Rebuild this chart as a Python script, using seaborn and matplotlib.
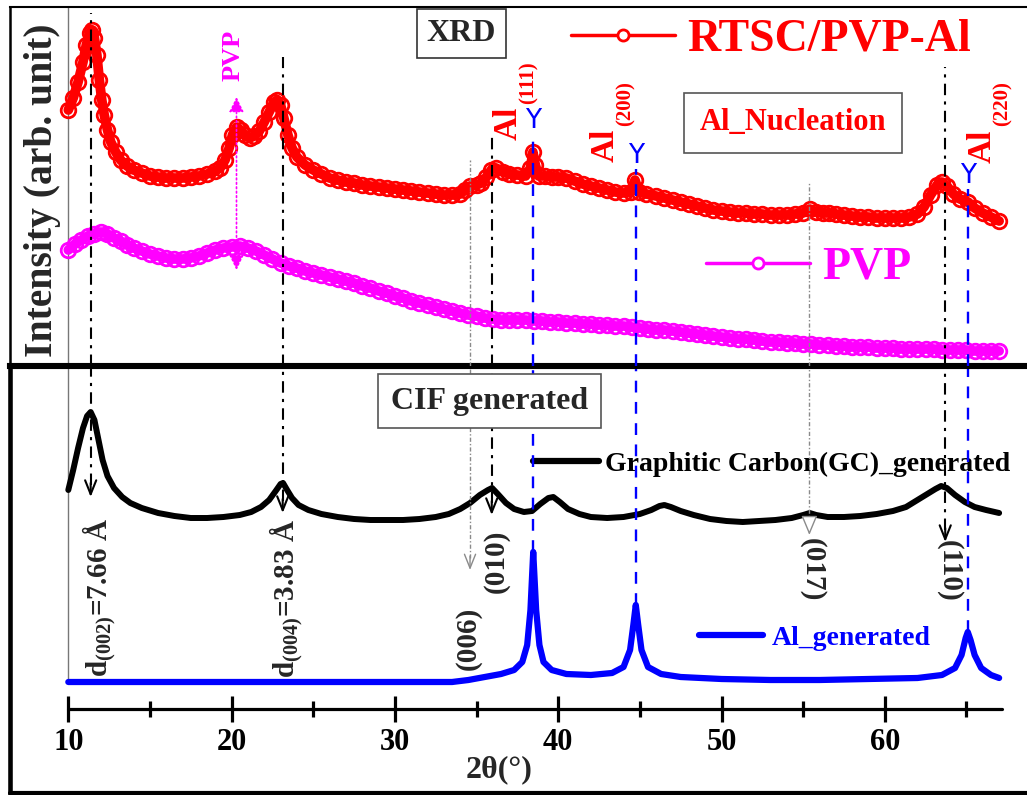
import matplotlib
matplotlib.use("Agg")
import matplotlib.pyplot as plt
import pandas as pd
import seaborn as sns
from matplotlib.lines import Line2D

# ---------------- data (2theta in degrees, intensity in arbitrary units) ----------------
rtsc_2theta = [10.0, 10.3, 10.6, 10.9, 11.1, 11.3, 11.45, 11.6, 11.75, 11.9, 12.05, 12.2, 12.4, 12.6,
               12.9, 13.2, 13.6, 14.0, 14.5, 15.0, 15.5, 16.0, 16.5, 17.0, 17.5, 18.0, 18.5, 19.0,
               19.3, 19.6, 19.85, 20.05, 20.3, 20.55, 20.8, 21.1, 21.4, 21.7, 22.0, 22.3, 22.6, 22.8,
               23.0, 23.2, 23.45, 23.7, 24.0, 24.5, 25.0, 25.5, 26.0, 26.5, 27.0, 27.5, 28.0, 28.5,
               29.0, 29.5, 30.0, 30.5, 31.0, 31.5, 32.0, 32.5, 33.0, 33.5, 34.0, 34.3, 34.6, 35.0,
               35.3, 35.6, 35.9, 36.2, 36.6, 37.0, 37.5, 38.0, 38.3, 38.45, 38.6, 38.8, 39.2, 39.6,
               40.0, 40.5, 41.0, 41.5, 42.0, 42.5, 43.0, 43.5, 44.0, 44.45, 44.7, 44.95, 45.4, 46.0,
               46.5, 47.0, 47.5, 48.0, 48.5, 49.0, 49.5, 50.0, 50.5, 51.0, 51.5, 52.0, 52.5, 53.0,
               53.5, 54.0, 54.5, 55.0, 55.4, 55.8, 56.2, 56.6, 57.0, 57.5, 58.0, 58.5, 59.0, 59.5,
               60.0, 60.5, 61.0, 61.5, 62.0, 62.4, 62.8, 63.2, 63.5, 63.8, 64.2, 64.6, 65.1, 65.5,
               66.0, 66.5, 67.0]
rtsc_int = [256, 268, 284, 304, 321, 333, 336, 328, 311, 286, 266, 251, 236, 224,
            214, 206, 200, 196, 193, 190, 189, 188, 188, 188, 189, 190, 192, 195,
            198, 206, 218, 231, 239, 236, 231, 228, 230, 235, 244, 254, 264, 266,
            261, 248, 231, 218, 209, 201, 196, 192, 188, 186, 184, 183, 181, 180,
            179, 178, 177, 176, 175, 174, 173, 172, 171, 171, 172, 176, 180, 181,
            183, 189, 196, 198, 194, 192, 191, 190, 198, 214, 201, 190, 190, 189,
            189, 188, 185, 182, 180, 178, 176, 174, 173, 174, 186, 174, 172, 170,
            168, 166, 164, 162, 160, 158, 156, 155, 154, 153, 153, 152, 152, 151,
            151, 151, 152, 153, 157, 154, 153, 153, 152, 151, 150, 149, 149, 148,
            148, 148, 148, 149, 152, 159, 171, 181, 184, 180, 172, 167, 164, 158,
            153, 149, 145]

pvp_2theta = [10.0, 10.4, 10.8, 11.2, 11.6, 12.0, 12.4, 12.8, 13.2, 13.6, 14.0, 14.5, 15.0, 15.5,
              16.0, 16.5, 17.0, 17.5, 18.0, 18.5, 19.0, 19.5, 20.0, 20.5, 21.0, 21.5, 22.0, 22.5,
              23.0, 23.5, 24.0, 24.5, 25.0, 25.5, 26.0, 26.5, 27.0, 27.5, 28.0, 28.5, 29.0, 29.5,
              30.0, 30.5, 31.0, 31.5, 32.0, 32.5, 33.0, 33.5, 34.0, 34.5, 35.0, 35.5, 36.0, 36.5,
              37.0, 37.5, 38.0, 38.5, 39.0, 39.5, 40.0, 40.5, 41.0, 41.5, 42.0, 42.5, 43.0, 43.5,
              44.0, 44.5, 45.0, 45.5, 46.0, 46.5, 47.0, 47.5, 48.0, 48.5, 49.0, 49.5, 50.0, 50.5,
              51.0, 51.5, 52.0, 52.5, 53.0, 53.5, 54.0, 54.5, 55.0, 55.5, 56.0, 56.5, 57.0, 57.5,
              58.0, 58.5, 59.0, 59.5, 60.0, 60.5, 61.0, 61.5, 62.0, 62.5, 63.0, 63.5, 64.0, 64.5,
              65.0, 65.5, 66.0, 66.5, 67.0]
pvp_int = [116, 122, 126, 130, 132, 134, 132, 128, 125, 121, 118, 115, 112, 110,
           108, 107, 107, 108, 110, 113, 116, 118, 119, 120, 118, 115, 111, 107,
           103, 100, 98, 95, 93, 91, 89, 87, 85, 83, 80, 78, 75, 73,
           70, 68, 65, 63, 61, 59, 57, 55, 53, 51, 50, 48, 47, 46,
           46, 46, 46, 45, 45, 44, 44, 43, 43, 42, 42, 41, 41, 40,
           40, 39, 38, 37, 36, 36, 35, 34, 33, 32, 31, 30, 29, 28,
           27, 27, 26, 25, 24, 24, 23, 23, 22, 22, 21, 21, 20, 20,
           19, 19, 19, 18, 18, 18, 17, 17, 17, 17, 17, 16, 16, 16,
           16, 15, 15, 15, 15]

gc_2theta = [10.0, 10.3, 10.6, 10.9, 11.15, 11.37, 11.6, 11.85, 12.1, 12.4, 12.8, 13.3, 13.8, 14.5,
             15.5, 16.5, 17.5, 18.5, 19.5, 20.5, 21.2, 21.8, 22.3, 22.7, 23.0, 23.15, 23.4, 23.7,
             24.1, 24.7, 25.5, 26.5, 27.5, 28.5, 29.5, 30.5, 31.5, 32.5, 33.3, 34.0, 34.6, 35.2,
             35.7, 35.95, 36.3, 36.8, 37.3, 37.9, 38.4, 38.9, 39.4, 39.7, 40.1, 40.6, 41.3, 42.0,
             43.0, 44.0, 45.0, 45.7, 46.2, 46.5, 46.9, 47.5, 48.3, 49.3, 50.3, 51.3, 52.3, 53.3,
             54.3, 55.0, 55.4, 55.8, 56.5, 57.5, 58.5, 59.5, 60.5, 61.3, 62.0, 62.6, 63.1, 63.45,
             63.8, 64.3, 64.9, 65.5, 66.2, 67.0]
gc_int = [303, 323, 345, 365, 377, 381, 373, 353, 333, 317, 305, 296, 290, 285,
          280, 277, 275, 275, 276, 278, 281, 286, 293, 302, 309, 310, 303, 295,
          288, 283, 279, 276, 274, 273, 273, 273, 274, 276, 279, 284, 290, 298,
          303, 305, 299, 290, 284, 281, 282, 289, 295, 296, 291, 284, 279, 276,
          275, 276, 279, 283, 287, 288, 286, 282, 278, 274, 272, 271, 272, 273,
          275, 278, 280, 278, 276, 276, 277, 279, 282, 286, 293, 299, 304, 307,
          305, 298, 291, 286, 283, 280]

al_2theta = [10.0, 20.0, 30.0, 33.5, 34.5, 35.5, 36.5, 37.3, 37.8, 38.1, 38.3, 38.47, 38.65, 38.85,
             39.1, 39.6, 40.5, 42.0, 43.3, 44.0, 44.4, 44.6, 44.75, 44.9, 45.1, 45.5, 46.3, 47.5,
             50.0, 53.0, 56.0, 59.0, 62.0, 63.5, 64.3, 64.7, 64.95, 65.08, 65.25, 65.5, 65.9, 66.5,
             67.0]
al_int = [111, 111, 111, 111, 113, 116, 119, 123, 131, 148, 183, 241, 183, 148,
          131, 123, 119, 118, 120, 126, 143, 168, 188, 168, 143, 126, 119, 116,
          114, 113, 113, 114, 115, 118, 125, 138, 155, 161, 153, 138, 125, 118,
          115]

x_ticks = [10, 20, 30, 40, 50, 60]
x_minor_ticks = [15, 25, 35, 45, 55, 65]

# reflection positions (2theta)
al_hkl = ["(111)", "(200)", "(220)"]
al_pos = [38.47, 44.75, 65.08]
gc_pos = [11.37, 23.13, 34.6, 35.93, 55.38, 63.7]
pvp_peak = 20.3

# ---------------- style ----------------
sns.set_style("white")
plt.rcParams["font.family"] = ["Liberation Serif", "DejaVu Serif"]
plt.rcParams["font.weight"] = "bold"
plt.rcParams["mathtext.fontset"] = "custom"
plt.rcParams["mathtext.rm"] = "Liberation Serif:bold"
plt.rcParams["mathtext.bf"] = "Liberation Serif:bold"
plt.rcParams["mathtext.it"] = "Liberation Serif:italic:bold"

RED, MAG, BLUE = "#FF0000", "#FF00FF", "#0000FF"
DASHDOT = (0, (5.5, 3, 1.5, 3))
GRAYDOT = (0, (3, 1.5, 1, 1.5))
BLUEDASH = (0, (5, 4))

W, H = 1027, 795
fig = plt.figure(figsize=(W / 100, H / 100), dpi=100)
fig.patch.set_facecolor("white")

XL = (6.43, 68.707)
TOP_H = 359.5
BOT_H = 427.0
ax_bot = fig.add_axes([10 / W, 2 / H, 1017 / W, BOT_H / H])
ax_top = fig.add_axes([10 / W, 429 / H, 1017 / W, TOP_H / H])
for a in (ax_top, ax_bot):
    a.set_xlim(*XL)
    a.patch.set_visible(False)
ax_top.set_ylim(0, TOP_H)
ax_bot.set_ylim(0, BOT_H)

# ---------------- curves ----------------
df_rtsc = pd.DataFrame({"two_theta": rtsc_2theta, "intensity": rtsc_int})
df_pvp = pd.DataFrame({"two_theta": pvp_2theta, "intensity": pvp_int})
df_gc = pd.DataFrame({"two_theta": gc_2theta, "intensity": gc_int})
df_al = pd.DataFrame({"two_theta": al_2theta, "intensity": al_int})

sns.lineplot(data=df_rtsc, x="two_theta", y="intensity", ax=ax_top, sort=False, estimator=None,
             color=RED, lw=7, marker="o", markersize=10.5, markerfacecolor="none",
             markeredgecolor=RED, markeredgewidth=2.0, legend=False, zorder=3)
sns.lineplot(data=df_pvp, x="two_theta", y="intensity", ax=ax_top, sort=False, estimator=None,
             color=MAG, lw=7, marker="o", markersize=10.5, markerfacecolor="none",
             markeredgecolor=MAG, markeredgewidth=2.0, legend=False, zorder=3)
for l in ax_top.get_lines():
    l.set_solid_capstyle("round")
    l.set_solid_joinstyle("round")
sns.lineplot(data=df_gc, x="two_theta", y="intensity", ax=ax_bot, sort=False, estimator=None,
             color="black", lw=4.3, legend=False, zorder=3)
sns.lineplot(data=df_al, x="two_theta", y="intensity", ax=ax_bot, sort=False, estimator=None,
             color=BLUE, lw=4.5, legend=False, zorder=3)
for l in ax_bot.get_lines():
    l.set_solid_capstyle("round")
    l.set_solid_joinstyle("round")

# ---------------- axes decoration ----------------
for a in (ax_top, ax_bot):
    a.set_xlabel("")
    a.set_ylabel("")
    a.set_yticks([])

ax_top.spines["right"].set_visible(False)
ax_top.spines["top"].set_linewidth(1.5)
ax_top.spines["left"].set_linewidth(1.8)
ax_top.spines["bottom"].set_linewidth(4.4)
ax_top.tick_params(axis="x", which="both", bottom=False, labelbottom=False)
for s in ax_top.spines.values():
    s.set_color("black")

ax_bot.spines["right"].set_visible(False)
ax_bot.spines["top"].set_visible(False)
ax_bot.spines["left"].set_linewidth(3.3)
ax_bot.spines["left"].set_color("black")
ax_bot.spines["bottom"].set_position(("data", 84))
ax_bot.spines["bottom"].set_bounds(10, 67.16)
ax_bot.spines["bottom"].set_linewidth(2.3)
ax_bot.spines["bottom"].set_color("black")
ax_bot.spines["bottom"].set_capstyle("round")
ax_bot.axhline(0, color="black", lw=3, clip_on=False)
ax_bot.set_xticks(x_ticks)
ax_bot.set_xticks(x_minor_ticks, minor=True)
ax_bot.set_xticklabels([str(t) for t in x_ticks])
ax_bot.tick_params(axis="x", which="major", bottom=True, direction="inout", length=19, width=2.3,
                   pad=4, labelsize=22, colors="black")
ax_bot.tick_params(axis="x", which="minor", bottom=True, direction="inout", length=11, width=2.3,
                   colors="black")
for lab in ax_bot.get_xticklabels():
    lab.set_fontweight("bold")
ax_bot.set_xlabel("2θ(°)", fontsize=23, fontweight="bold")
ax_bot.xaxis.set_label_coords(0.4808, 0.088)

ax_top.set_ylabel("Intensity (arb. unit)", fontsize=28.5, fontweight="bold")
ax_top.yaxis.label.set_va("center")
ax_top.yaxis.label.set_ha("center")
ax_top.yaxis.set_label_coords(0.0315, 0.4896)

# thin grey left boundary of the scan range
ax_top.vlines(10, 0, TOP_H, color="#777777", lw=1)
ax_bot.vlines(10, al_int[0], BOT_H, color="#777777", lw=1)

# ---------------- guide lines ----------------
def guide(x, v_top, v_tip, ls, color, lw, head, fc=None):
    ax_top.vlines(x, 0, v_top, linestyles=[ls], colors=color, lw=lw, zorder=6)
    ax_bot.vlines(x, v_tip + 12, BOT_H, linestyles=[ls], colors=color, lw=lw, zorder=6)
    props = dict(arrowstyle=head, lw=lw, mutation_scale=20, shrinkA=0, shrinkB=0,
                 edgecolor=color, facecolor=fc if fc is not None else color)
    ax_bot.annotate("", xy=(x, v_tip), xytext=(x, v_tip + 14), arrowprops=props, zorder=6)

guide(gc_pos[0], 353, 296, DASHDOT, "black", 1.5, "->,head_length=0.5,head_width=0.2")
guide(gc_pos[1], 309, 280, DASHDOT, "black", 1.5, "->,head_length=0.5,head_width=0.2")
guide(gc_pos[2], 206, 223, GRAYDOT, "#8a8a8a", 1.0, "->,head_length=0.5,head_width=0.2")
guide(gc_pos[3], 233, 278, DASHDOT, "black", 1.5, "->,head_length=0.5,head_width=0.2")
guide(gc_pos[4], 183, 258, GRAYDOT, "#8a8a8a", 1.0, "-|>,head_length=0.6,head_width=0.25", fc="white")
guide(gc_pos[5], 299, 251, DASHDOT, "black", 1.5, "->,head_length=0.5,head_width=0.2")

# Al reflections: blue dashed lines from marker to generated Al peaks
y_marker = [245, 210, 190]
for x, ym in zip(al_pos, y_marker):
    peak = max(v for t, v in zip(al_2theta, al_int) if abs(t - x) < 0.3)
    ax_top.vlines(x, 0, ym - 13, linestyles=[BLUEDASH], colors=BLUE, lw=1.7, zorder=6)
    ax_bot.vlines(x, peak, BOT_H, linestyles=[BLUEDASH], colors=BLUE, lw=1.7, zorder=6)
    ax_top.text(x, ym, "Y", color=BLUE, fontsize=19, fontweight="normal",
                family="DejaVu Sans", ha="center", va="center", zorder=7)

# Al labels: "Al" with a lowered (to the right, since rotated) Miller-index subscript
al_label_x = [36.95, 42.87, 65.93]
al_label_v = [226, 204, 203]
al_sub_x = [38.2, 44.1, 67.2]
al_sub_v = [262, 240, 240]
for hkl, x, v, xs, vs in zip(al_hkl, al_label_x, al_label_v, al_sub_x, al_sub_v):
    ax_top.text(x, v, "Al", color=RED, fontsize=24, fontweight="bold",
                rotation=90, ha="center", va="bottom", zorder=7)
    ax_top.text(xs, vs, hkl, color=RED, fontsize=15, fontweight="bold",
                rotation=90, ha="center", va="bottom", zorder=7)

# PVP marker in sample pattern
ax_top.annotate("", xy=(pvp_peak, 269), xytext=(pvp_peak, 96),
                arrowprops=dict(arrowstyle="<|-|>,head_length=0.45,head_width=0.22", color=MAG,
                                lw=1.2, ls=":", mutation_scale=20, shrinkA=0, shrinkB=0), zorder=6)
ax_top.text(20.07, 311, "PVP", color=MAG, fontsize=19, fontweight="bold", rotation=90,
            ha="center", va="center")

# boxes
ax_top.text(34.08, 332.5, "XRD", fontsize=23, fontweight="bold", ha="center", va="center",
            bbox=dict(boxstyle="square,pad=0.3", fc="white", ec="#333333", lw=1.2))
ax_top.text(54.38, 243, "Al_Nucleation", fontsize=22, fontweight="bold", color=RED,
            ha="center", va="center",
            bbox=dict(boxstyle="square,pad=0.5", fc="white", ec="#555555", lw=1.2))
ax_bot.text(35.79, 392, "CIF generated", fontsize=23, fontweight="bold", ha="center", va="center",
            bbox=dict(boxstyle="square,pad=0.4", fc="white", ec="#555555", lw=1.2), zorder=8)

# legends
h_rtsc = Line2D([], [], color=RED, lw=2.5, marker="o", ms=8, mfc="white", mec=RED, mew=2)
h_pvp = Line2D([], [], color=MAG, lw=2.5, marker="o", ms=8, mfc="white", mec=MAG, mew=2)
leg1 = ax_top.legend([h_rtsc], ["RTSC/PVP-Al"], loc="center left", bbox_to_anchor=(0.552, 0.907),
                     frameon=False, borderpad=0, borderaxespad=0, handlelength=2.27,
                     handletextpad=0.26, numpoints=1, labelcolor=RED,
                     prop=dict(family="Liberation Serif", weight="bold", size=33))
ax_top.add_artist(leg1)
ax_top.legend([h_pvp], ["PVP"], loc="center left", bbox_to_anchor=(0.6844, 0.273),
              frameon=False, borderpad=0, borderaxespad=0, handlelength=2.27,
              handletextpad=0.26, numpoints=1, labelcolor=MAG,
              prop=dict(family="Liberation Serif", weight="bold", size=33))

h_gc = Line2D([], [], color="black", lw=4.5, solid_capstyle="round")
h_al = Line2D([], [], color=BLUE, lw=4.5, solid_capstyle="round")
leg3 = ax_bot.legend([h_gc], ["Graphitic Carbon(GC)_generated"], loc="center left",
                     bbox_to_anchor=(0.5143, 0.771), frameon=False, borderpad=0, borderaxespad=0,
                     handlelength=2.39, handletextpad=0.19, labelcolor="black",
                     prop=dict(family="Liberation Serif", weight="bold", size=20))
ax_bot.add_artist(leg3)
ax_bot.legend([h_al], ["Al_generated"], loc="center left", bbox_to_anchor=(0.6776, 0.362),
              frameon=False, borderpad=0, borderaxespad=0, handlelength=2.3,
              handletextpad=0.32, labelcolor=BLUE,
              prop=dict(family="Liberation Serif", weight="bold", size=20))

# rotated reflection labels in the generated panel
ax_bot.text(11.88, 116, "d$_{(002)}$=7.66 Å", fontsize=21, fontweight="bold", rotation=90,
            ha="center", va="bottom")
ax_bot.text(23.37, 115, "d$_{(004)}$=3.83 Å", fontsize=21, fontweight="bold", rotation=90,
            ha="center", va="bottom")
ax_bot.text(34.51, 123, "(006)", fontsize=21, fontweight="bold", rotation=90, ha="center", va="bottom")
ax_bot.text(36.22, 200, "(010)", fontsize=21, fontweight="bold", rotation=90, ha="center", va="bottom")
ax_bot.text(55.54, 255, "(017)", fontsize=21, fontweight="bold", rotation=270, ha="center", va="top")
ax_bot.text(63.96, 253, "(110)", fontsize=21, fontweight="bold", rotation=270, ha="center", va="top")

fig.savefig("out.png", dpi=100, facecolor="white")
